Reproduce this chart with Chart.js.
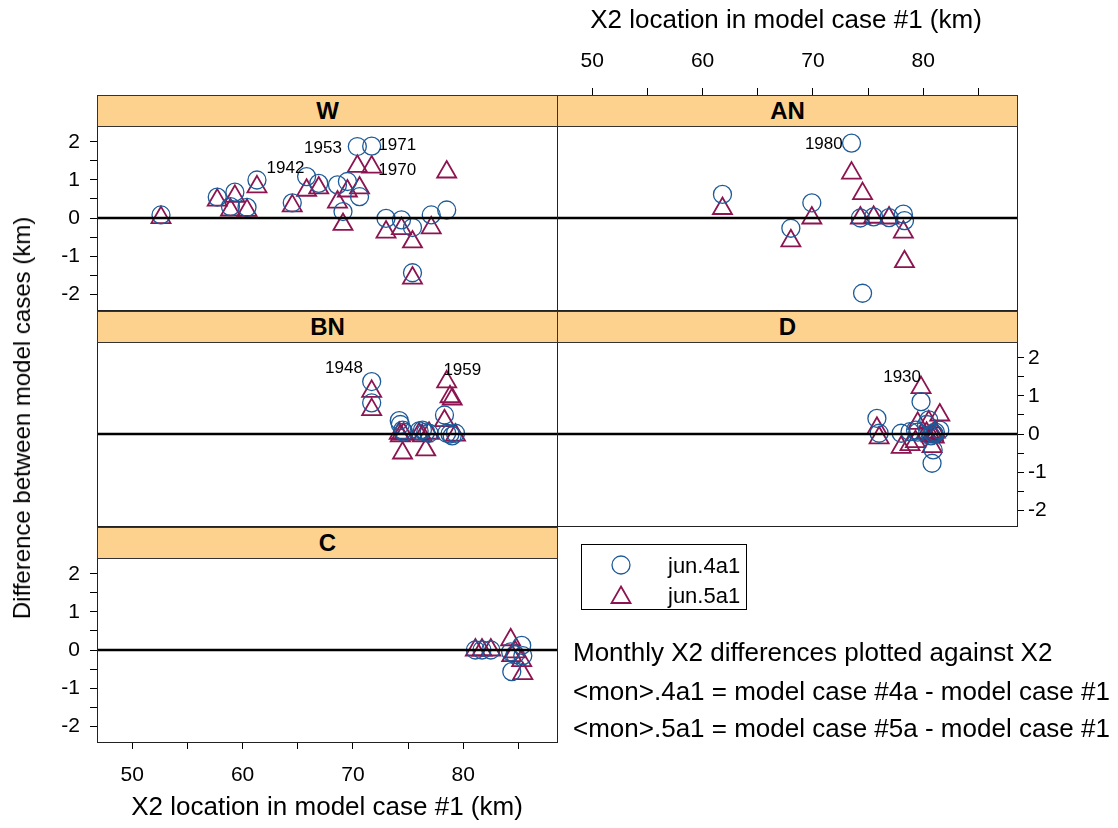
<!DOCTYPE html>
<html><head><meta charset="utf-8">
<script src="https://cdn.jsdelivr.net/npm/chart.js@4/dist/chart.umd.min.js"></script>
<style>
body{margin:0;background:#fff;width:1118px;height:828px;position:relative;overflow:hidden;font-family:"Liberation Sans",Arial,sans-serif;color:#000;}
canvas{position:absolute;left:0;top:0;}
.strip{position:absolute;background:#FDD28F;border:1px solid #333;box-sizing:border-box;font-weight:bold;font-size:24px;text-align:center;}
.lbl{position:absolute;font-size:17px;line-height:1;white-space:nowrap;}
.title{position:absolute;font-size:26px;line-height:1;white-space:nowrap;}
.note{position:absolute;left:573px;font-size:26px;line-height:1;white-space:nowrap;}
#legend{position:absolute;left:581px;top:544px;width:166px;height:66px;border:1px solid #000;box-sizing:border-box;}
#legend div{position:absolute;left:86px;font-size:22px;line-height:1;}
#legend svg{position:absolute;left:27px;}
</style></head><body>
<script>
// ---------- data ----------
const panelNames = ['W', 'AN', 'BN', 'D', 'C'];
const seriesNames = ['jun.4a1', 'jun.5a1'];

const wX   = [52.6, 57.7, 58.9, 59.3, 60.4, 61.3, 64.5, 65.8, 66.9, 68.6, 69.1, 69.5, 70.4, 70.6, 71.7, 73.0, 74.4, 75.4, 75.4, 77.1, 78.5];
const wJun4 = [0.08, 0.55, 0.30, 0.68, 0.28, 1.00, 0.40, 1.09, 0.91, 0.87, 0.17, 0.96, 1.88, 0.56, 1.89, -0.01, -0.05, -0.25, -1.44, 0.08, 0.21];
const wJun5 = [0.01, 0.47, 0.21, 0.57, 0.20, 0.82, 0.32, 0.73, 0.79, 0.42, -0.17, 0.71, 1.36, 0.79, 1.34, -0.37, -0.28, -0.63, -1.58, -0.26, 1.21];

const anX   = [61.8, 68.0, 69.9, 73.5, 74.3, 74.5, 75.5, 76.9, 78.2, 78.3];
const anJun4 = [0.62, -0.27, 0.40, 1.97, 0.00, -1.98, 0.03, 0.01, 0.10, -0.07];
const anJun5 = [0.25, -0.60, 0.00, 1.18, 0.00, 0.64, 0.02, 0.00, -0.37, -1.15];

const bnX   = [71.7, 71.7, 74.2, 74.3, 74.5, 74.6, 76.0, 76.3, 76.6, 76.9, 78.3, 78.5, 78.8, 79.0, 79.3];
const bnJun4 = [1.38, 0.82, 0.35, 0.25, 0.10, 0.05, 0.08, 0.10, 0.05, 0.02, 0.50, 0.02, 0.00, -0.05, 0.02];
const bnJun5 = [1.12, 0.64, 0.02, -0.05, -0.50, 0.00, 0.00, -0.05, -0.42, 0.02, 0.35, 1.37, 0.98, 0.92, -0.03];

const dX   = [75.8, 76.0, 78.0, 78.8, 79.3, 79.5, 79.8, 80.3, 80.5, 80.7, 80.8, 80.9, 81.0, 81.1, 81.5, 80.9];
const dJun4 = [0.41, 0.02, 0.02, 0.06, 0.10, 0.05, 0.85, 0.25, 0.37, -0.05, -0.77, -0.42, 0.00, 0.05, 0.10, 0.02];
const dJun5 = [0.15, -0.10, -0.35, -0.28, -0.20, 0.28, 1.22, 0.02, 0.32, -0.05, -0.33, 0.00, -0.08, 0.05, 0.50, -0.02];

const cX   = [81.1, 81.7, 82.5, 84.3, 84.4, 84.7, 85.3, 85.4];
const cJun4 = [0.00, 0.00, 0.00, -0.05, -0.57, -0.12, 0.12, -0.15];
const cJun5 = [0.00, 0.00, 0.00, 0.27, -0.15, -0.05, -0.28, -0.62];

// year annotations (anchor in data units)
const wYears = ['1942', '1953', '1971', '1970'];
const wYearX = [65.6, 69.0, 72.3, 72.3];
const wYearY = [1.35, 1.86, 1.94, 1.29];
const anYears = ['1980']; const anYearX = [72.7]; const anYearY = [1.97];
const bnYears = ['1948', '1959']; const bnYearX = [70.9, 78.2]; const bnYearY = [1.77, 1.70];
const dYears = ['1930']; const dYearX = [79.8]; const dYearY = [1.53];

// axes
const xLimits = [46.8, 88.5];
const yLimits = [-2.42, 2.42];
const xTicks = [50, 55, 60, 65, 70, 75, 80, 85];
const xTickLabels = [50, 60, 70, 80];
const yTicks = [-2, -1.5, -1, -0.5, 0, 0.5, 1, 1.5, 2];
const yTickLabels = [-2, -1, 0, 1, 2];

// ---------- layout ----------
const W = 1118, H = 828;
const FONT = '"Liberation Sans", Arial, sans-serif';
const COL4 = '#1D5A98', COL5 = '#8C1450';
const STRIP_H = 31, X_AXIS_H = 47, Y_AXIS_W = 50, TICK_LEN = 7;

const framePlugin = {
  id: 'frame',
  afterDatasetsDraw(chart) {
    const {ctx, chartArea: a, scales} = chart;
    ctx.save();
    const y0 = scales.y.getPixelForValue(0);
    ctx.strokeStyle = '#000'; ctx.lineWidth = 2.6;
    ctx.beginPath(); ctx.moveTo(a.left, y0); ctx.lineTo(a.right, y0); ctx.stroke();
    ctx.lineWidth = 1; ctx.strokeStyle = '#222';
    ctx.strokeRect(Math.round(a.left) + 0.5, Math.round(a.top) + 0.5, Math.round(a.right - a.left), Math.round(a.bottom - a.top));
    ctx.restore();
  }
};

function makePanel(p) {
  const cv = document.createElement('canvas');
  cv.width = W; cv.height = H;
  document.body.appendChild(cv);
  const pad = {
    left: p.yAxis === 'left' ? p.x0 - Y_AXIS_W : p.x0,
    right: p.yAxis === 'right' ? W - p.x1 - Y_AXIS_W : W - p.x1,
    top: p.xAxis === 'top' ? p.y0 - STRIP_H - X_AXIS_H : p.y0,
    bottom: p.xAxis === 'bottom' ? H - p.y1 - X_AXIS_H : H - p.y1
  };
  const tickFont = {family: FONT, size: 21};
  const scales = {
    x: {
      type: 'linear', position: p.xAxis || 'bottom', display: !!p.xAxis, weight: 1,
      min: xLimits[0], max: xLimits[1],
      afterBuildTicks: s => { s.ticks = xTicks.map(v => ({value: v})); },
      afterFit: s => { s.height = p.xAxis ? X_AXIS_H : 0; },
      ticks: {autoSkip: false, maxRotation: 0, minRotation: 0, padding: 14, color: '#000', font: tickFont,
        callback: v => xTickLabels.includes(v) ? String(v) : ''},
      grid: {drawOnChartArea: false, drawTicks: true, tickLength: TICK_LEN, tickColor: '#000', tickWidth: 1},
      border: {display: false}
    },
    y: {
      type: 'linear', position: p.yAxis || 'left', display: !!p.yAxis,
      min: yLimits[0], max: yLimits[1],
      afterBuildTicks: s => { s.ticks = yTicks.map(v => ({value: v})); },
      afterFit: s => { s.width = p.yAxis ? Y_AXIS_W : 0; },
      ticks: {autoSkip: false, padding: p.yAxis === 'right' ? 4 : 10, color: '#000', font: tickFont,
        callback: v => yTickLabels.includes(v) ? String(v) : ''},
      grid: {drawOnChartArea: false, drawTicks: true, tickLength: TICK_LEN, tickColor: '#000', tickWidth: 1},
      border: {display: false}
    }
  };
  if (p.xAxis === 'top') {
    scales.gap = {type: 'linear', axis: 'x', position: 'top', display: true, weight: 0,
      min: xLimits[0], max: xLimits[1],
      ticks: {display: false}, grid: {display: false}, border: {display: false},
      afterFit: s => { s.height = STRIP_H; }};
  }
  const chart = new Chart(cv, {
    type: 'scatter',
    data: {
      datasets: [
        {label: seriesNames[0], data: p.xs.map((x, i) => ({x, y: p.a[i]})), pointStyle: 'circle', pointRadius: 9,
          borderColor: COL4, backgroundColor: 'rgba(0,0,0,0)', borderWidth: 1.3},
        {label: seriesNames[1], data: p.xs.map((x, i) => ({x, y: p.b[i]})), pointStyle: 'triangle', pointRadius: 11,
          borderColor: COL5, backgroundColor: 'rgba(0,0,0,0)', borderWidth: 1.8}
      ]
    },
    options: {
      responsive: false, animation: false, events: [],
      layout: {padding: pad},
      scales,
      plugins: {legend: {display: false}, tooltip: {enabled: false}}
    },
    plugins: [framePlugin]
  });
  // strip
  const st = document.createElement('div');
  st.className = 'strip';
  st.style.left = p.x0 + 'px'; st.style.top = (p.y0 - STRIP_H) + 'px';
  st.style.width = (p.x1 - p.x0 + 1) + 'px'; st.style.height = (STRIP_H + 1) + 'px';
  st.style.lineHeight = (STRIP_H - 1) + 'px';
  st.textContent = p.name;
  document.body.appendChild(st);
  // year labels
  (p.years || []).forEach((t, i) => {
    const d = document.createElement('div');
    d.className = 'lbl';
    d.textContent = t;
    const px = chart.scales.x.getPixelForValue(p.yx[i]);
    const py = chart.scales.y.getPixelForValue(p.yy[i]);
    d.style.left = px + 'px'; d.style.top = py + 'px';
    d.style.transform = p.align[i] === 'right' ? 'translate(-100%,-50%)' : 'translate(0,-50%)';
    document.body.appendChild(d);
  });
  return chart;
}

makePanel({name: panelNames[0], x0: 97, x1: 557, y0: 126, y1: 310, yAxis: 'left',
  xs: wX, a: wJun4, b: wJun5, years: wYears, yx: wYearX, yy: wYearY, align: ['right', 'right', 'left', 'left']});
makePanel({name: panelNames[1], x0: 557, x1: 1017, y0: 126, y1: 310, xAxis: 'top',
  xs: anX, a: anJun4, b: anJun5, years: anYears, yx: anYearX, yy: anYearY, align: ['right']});
makePanel({name: panelNames[2], x0: 97, x1: 557, y0: 342, y1: 526,
  xs: bnX, a: bnJun4, b: bnJun5, years: bnYears, yx: bnYearX, yy: bnYearY, align: ['right', 'left']});
makePanel({name: panelNames[3], x0: 557, x1: 1017, y0: 342, y1: 526, yAxis: 'right',
  xs: dX, a: dJun4, b: dJun5, years: dYears, yx: dYearX, yy: dYearY, align: ['right']});
makePanel({name: panelNames[4], x0: 97, x1: 557, y0: 558, y1: 742, yAxis: 'left', xAxis: 'bottom',
  xs: cX, a: cJun4, b: cJun5});

// titles, legend, notes
function addText(cls, txt, css) {
  const d = document.createElement('div'); d.className = cls; d.textContent = txt;
  Object.assign(d.style, css); document.body.appendChild(d); return d;
}
addText('title', 'X2 location in model case #1 (km)', {left: '786px', top: '19px', transform: 'translate(-50%,-50%)'});
addText('title', 'X2 location in model case #1 (km)', {left: '327px', top: '806px', transform: 'translate(-50%,-50%)'});
addText('title', 'Difference between model cases (km)', {left: '22px', top: '418px', fontSize: '24px', transform: 'translate(-50%,-50%) rotate(-90deg)'});

const lg = document.createElement('div'); lg.id = 'legend';
lg.innerHTML =
  '<svg width="24" height="24" style="top:8px"><circle cx="12" cy="12" r="9" fill="none" stroke="' + COL4 + '" stroke-width="1.3"/></svg>' +
  '<div style="top:10px">' + seriesNames[0] + '</div>' +
  '<svg width="26" height="24" style="top:39px;left:26px"><polygon points="13,2.5 22.5,19 3.5,19" fill="none" stroke="' + COL5 + '" stroke-width="1.8"/></svg>' +
  '<div style="top:40px">' + seriesNames[1] + '</div>';
document.body.appendChild(lg);

addText('note', 'Monthly X2 differences plotted against X2', {top: '639px'});
addText('note', '<mon>.4a1 = model case #4a - model case #1', {top: '678px'});
addText('note', '<mon>.5a1 = model case #5a - model case #1', {top: '715px'});
</script>
</body></html>
